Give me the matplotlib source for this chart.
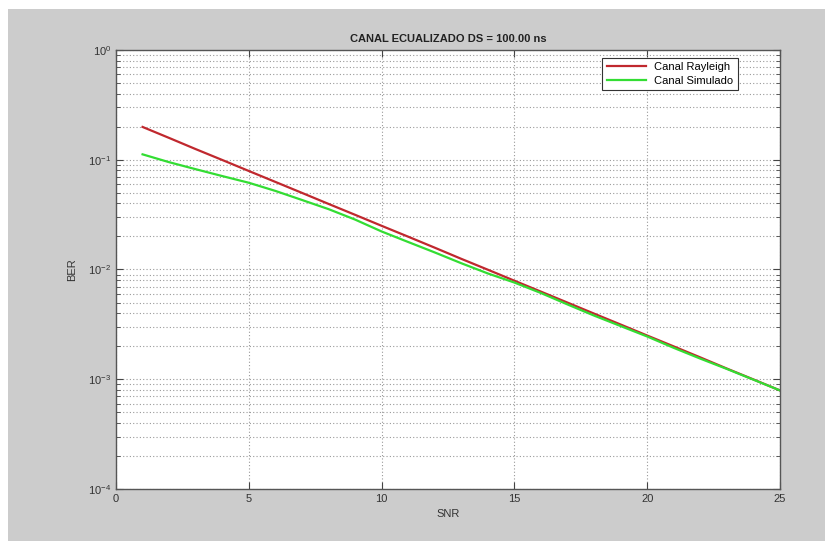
import matplotlib
matplotlib.use("Agg")
import matplotlib.pyplot as plt
from matplotlib.patches import Rectangle
from matplotlib.ticker import LogLocator, NullFormatter

snr = list(range(1, 26))
berRayleigh = [0.199, 0.158, 0.125, 0.0995, 0.079, 0.0628, 0.0499, 0.0396, 0.0315, 0.025,
               0.0199, 0.0158, 0.0125, 0.00995, 0.0079, 0.00628, 0.00499, 0.00396, 0.00315,
               0.0025, 0.00199, 0.00158, 0.00125, 0.000995, 0.00079]
berSimulado = [0.112, 0.095, 0.082, 0.071, 0.0617, 0.052, 0.043, 0.0355, 0.0285, 0.0222,
               0.0178, 0.0143, 0.0114, 0.0092, 0.0076, 0.0061, 0.0048, 0.0038, 0.00305,
               0.00245, 0.00193, 0.00154, 0.00124, 0.00099, 0.00079]
labels = ["Canal Rayleigh", "Canal Simulado"]

plt.rcParams['font.family'] = ['Liberation Sans', 'DejaVu Sans']

fig = plt.figure(figsize=(8.25, 5.41), dpi=100)
fig.patch.set_facecolor('white')
fig.patches.append(Rectangle((8 / 825, 0), 1, 1 - 9 / 541, transform=fig.transFigure,
                             facecolor='#cccccc', edgecolor='none', zorder=-10))

ax = fig.add_axes([0.1406, 0.0961, 0.805, 0.8115])
ax.set_facecolor('white')
ax.semilogy(snr, berRayleigh, color='#c0282e', lw=1.6, label=labels[0])
ax.semilogy(snr, berSimulado, color='#33dd33', lw=1.6, label=labels[1])

ax.set_xlim(0, 25)
ax.set_ylim(1e-4, 1)
ax.set_xticks([0, 5, 10, 15, 20, 25])
ax.yaxis.set_major_locator(LogLocator(base=10, numticks=10))
ax.yaxis.set_minor_locator(LogLocator(base=10, subs=range(2, 10), numticks=10))
ax.yaxis.set_minor_formatter(NullFormatter())

ax.grid(True, which='major', axis='both', color='#999999', linestyle=(0, (1, 2)), lw=0.8)
ax.grid(True, which='minor', axis='y', color='#999999', linestyle=(0, (1, 2)), lw=0.8)

ax.tick_params(which='both', direction='in', top=True, right=True, colors='#444444',
               labelcolor='#333333', labelsize=8)
ax.tick_params(which='major', length=5)
ax.tick_params(which='minor', length=3)
for s in ax.spines.values():
    s.set_color('#555555')
    s.set_linewidth(1.0)

ax.set_xlabel('SNR', fontsize=8, color='#333333', labelpad=4)
ax.set_ylabel('BER', fontsize=8, color='#333333', labelpad=8)
ax.set_title('CANAL ECUALIZADO DS = 100.00 ns', fontsize=8, fontweight='bold',
             color='#222222', pad=6)

leg = ax.legend(loc='upper right', bbox_to_anchor=(0.945, 0.995), fontsize=8,
                fancybox=False, framealpha=1, edgecolor='#333333', handlelength=3.5,
                borderpad=0.4, labelspacing=0.3)
leg.get_frame().set_linewidth(0.8)

fig.savefig('out.png', dpi=100, facecolor=fig.get_facecolor())
